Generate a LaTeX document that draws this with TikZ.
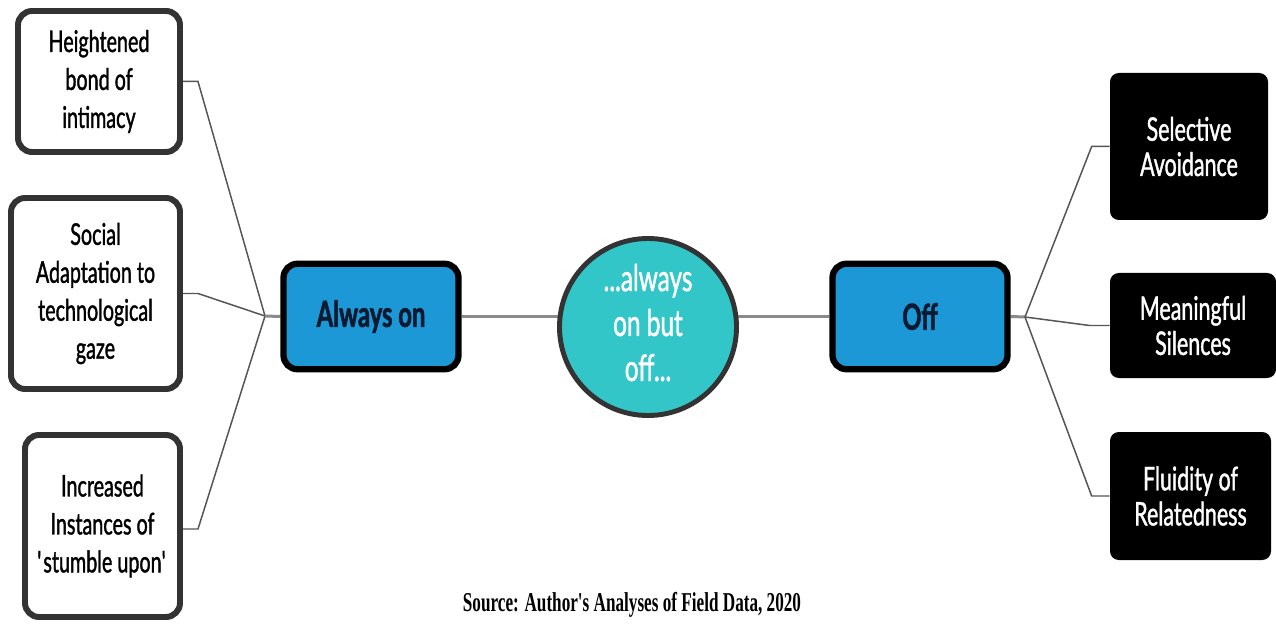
\documentclass[tikz,border=0pt]{standalone}
\usepackage{fontspec}
\setmainfont[FakeStretch=0.66]{Lato}
\newfontfamily\boldish[FakeStretch=0.66,FakeBold=1.2]{Lato}
\newfontfamily\heavy[FakeStretch=0.66,FakeBold=1.5]{Lato}
\newfontfamily\srcfont[FakeStretch=0.63]{Liberation Serif}
\usetikzlibrary{backgrounds}

\definecolor{boxline}{HTML}{333333}
\definecolor{midblue}{HTML}{1B98D5}
\definecolor{navytext}{HTML}{0B1A30}
\definecolor{teal}{HTML}{33C6C9}
\definecolor{wire}{HTML}{555555}
\definecolor{midwire}{HTML}{8A8A8A}

\tikzset{
  leftbox/.style={draw=boxline, line width=3.4pt, rounded corners=8pt, fill=white, align=center,
    font=\boldish\fontsize{17}{21.6}\selectfont, inner sep=2pt},
  darkbox/.style={fill=black, rounded corners=5pt, align=center, text=white,
    font=\boldish\fontsize{18.5}{20}\selectfont, inner sep=2pt},
  mainbox/.style={draw=black, line width=3.6pt, rounded corners=8pt, fill=midblue, text=navytext,
    font=\heavy\bfseries\fontsize{20.5}{24}\selectfont, minimum width=3.5cm, minimum height=2.11cm},
  hub/.style={circle, draw=boxline, line width=2.8pt, fill=teal, text=white, align=center,
    font=\boldish\fontsize{21}{25.6}\selectfont, minimum size=3.54cm, inner sep=0pt},
  wireline/.style={draw=wire, line width=0.85pt},
  midline/.style={draw=midwire, line width=1.7pt}
}

\begin{document}
\begin{tikzpicture}
\useasboundingbox (0,0) rectangle (25.52,-12.48);

\node[leftbox, minimum width=3.24cm, minimum height=2.82cm] (heightened) at (1.98,-1.63) {Heightened\\bond of\\intimacy};
\node[leftbox, minimum width=3.38cm, minimum height=3.82cm] (social) at (1.91,-5.87) {Social\\Adaptation to\\technological\\gaze};
\node[leftbox, minimum width=3.10cm, minimum height=3.64cm] (increased) at (2.05,-10.52) {Increased\\Instances of\\\textquotesingle stumble upon\textquotesingle};

\node[mainbox] (alwayson) at (7.42,-6.33) {Always on};
\node[hub] (hubcirc) at (12.96,-6.54) {\raisebox{2.5pt}{\begin{tabular}{@{}c@{}}...always\\on but\\off...\end{tabular}}};
\node[mainbox] (off) at (18.40,-6.33) {Off};

\node[darkbox, minimum width=3.16cm, minimum height=2.94cm] (selective) at (23.78,-2.93) {Selective\\Avoidance};
\node[darkbox, minimum width=3.32cm, minimum height=2.10cm] (meaningful) at (23.86,-6.51) {Meaningful\\Silences};
\node[darkbox, minimum width=3.22cm, minimum height=2.56cm] (fluidity) at (23.81,-9.92) {Fluidity of\\Relatedness};

\coordinate (jleft) at (5.30,-6.32);
\coordinate (jright) at (20.50,-6.34);

\begin{pgfonlayer}{background}
\draw[wireline] (heightened.east) -- ++(0.30,0) -- (jleft);
\draw[wireline] (social.east) -- ++(0.30,0) -- (jleft);
\draw[wireline] (increased.east) ++(0,-0.06) -- ++(0.30,0) -- (jleft);
\draw[midline] (jleft) -- (alwayson.west);

\draw[midline] (alwayson.east) -- (alwayson.east -| hubcirc.center);
\draw[midline] (alwayson.east -| hubcirc.center) -- (off.west);

\draw[midline] (off.east) -- (jright);
\draw[wireline] (jright) -- ([xshift=-0.36cm]selective.west) -- (selective.west);
\draw[wireline] (jright) -- ([xshift=-0.40cm]meaningful.west) -- (meaningful.west);
\draw[wireline] (jright) -- ([xshift=-0.36cm]fluidity.west) -- (fluidity.west);
\end{pgfonlayer}

\node[font=\srcfont\bfseries\fontsize{15.5}{18}\selectfont] (source) at (12.64,-12.10) {Source: Author's Analyses of Field Data, 2020};
\end{tikzpicture}
\end{document}
